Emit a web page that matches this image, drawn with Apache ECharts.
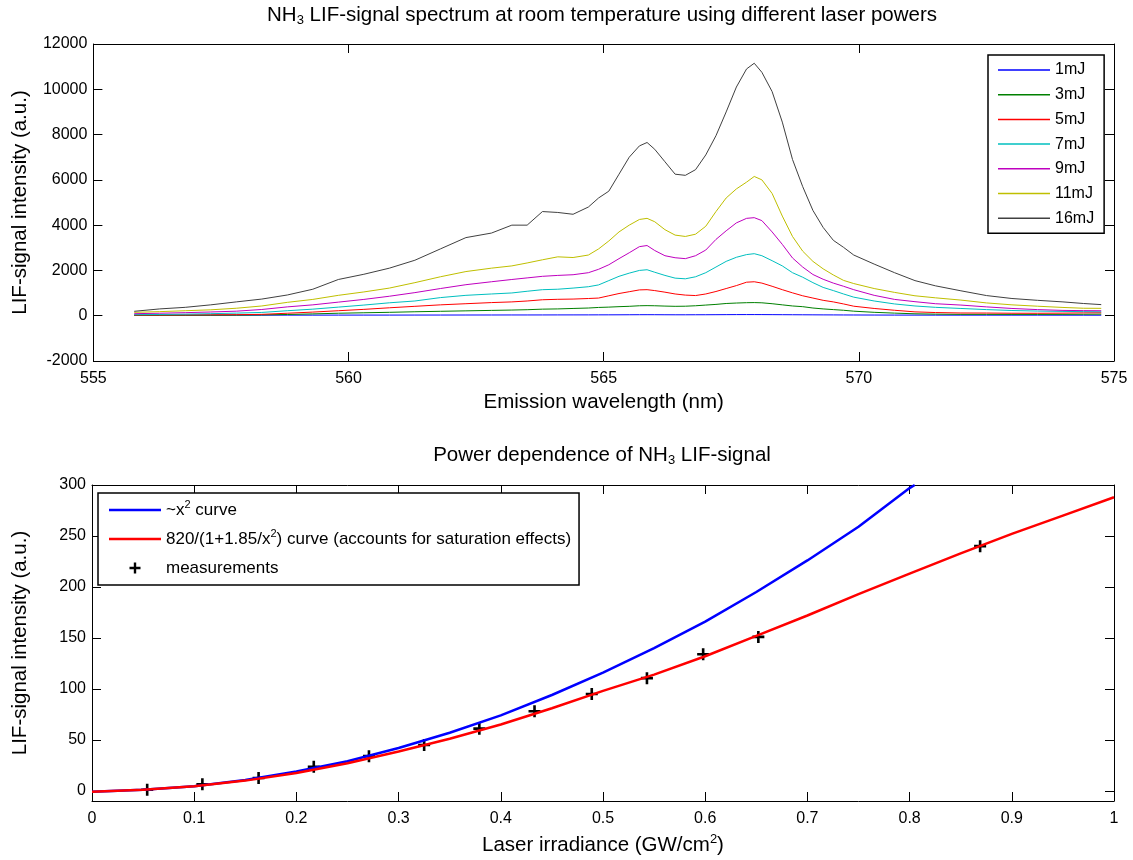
<!DOCTYPE html>
<html>
<head>
<meta charset="utf-8">
<title>NH3 LIF-signal</title>
<script src="https://cdn.jsdelivr.net/npm/echarts@6/dist/echarts.min.js"></script>
<style>
	html, body { margin: 0; padding: 0; background: #fff; }
	#main { width: 1133px; height: 860px; }
</style>
</head>
<body>
<div id="main"></div>
<script type="text/javascript">
	// top plot: emission wavelength (nm), shared by all spectra
	var wavelength = [555.8, 556.3, 556.8, 557.3, 557.8, 558.3, 558.8, 559.3, 559.8, 560.3,
		560.8, 561.3, 561.8, 562.3, 562.8, 563.2, 563.5, 563.8, 564.1, 564.4,
		564.7, 564.9, 565.1, 565.3, 565.5, 565.7, 565.85, 566.0, 566.2, 566.4,
		566.6, 566.8, 567.0, 567.2, 567.4, 567.6, 567.8, 567.95, 568.1, 568.3,
		568.5, 568.7, 568.9, 569.1, 569.3, 569.5, 569.7, 569.9, 570.3, 570.7,
		571.1, 571.5, 572.0, 572.5, 573.0, 573.5, 574.0, 574.4, 574.75];

	// LIF-signal intensity (a.u.) for each laser power
	var lif1mJ = [20, 20, 22, 22, 24, 24, 25, 26, 27, 28, 28, 29, 30, 31, 32, 33, 33, 34, 35, 36,
		37, 38, 39, 40, 42, 44, 45, 44, 42, 41, 41, 42, 43, 45, 47, 49, 50, 50, 49, 47,
		45, 43, 41, 39, 37, 35, 33, 32, 30, 28, 27, 26, 25, 25, 24, 24, 23, 23, 22];
	var lif3mJ = [15, 18, 20, 22, 25, 35, 55, 80, 110, 130, 150, 175, 195, 215, 235, 250, 265, 290, 300, 320,
		340, 365, 380, 400, 415, 440, 445, 440, 425, 415, 420, 440, 470, 500, 540, 560, 575, 580, 570, 530,
		480, 430, 400, 340, 300, 270, 240, 200, 150, 115, 85, 70, 60, 60, 58, 58, 60, 65, 70];
	var lif5mJ = [30, 32, 35, 40, 45, 60, 110, 160, 220, 280, 350, 415, 480, 530, 580, 610, 650, 705, 725, 735,
		760, 780, 880, 980, 1060, 1140, 1150, 1110, 1040, 960, 910, 890, 960, 1070, 1200, 1330, 1480, 1500, 1440, 1300,
		1150, 1010, 880, 780, 680, 610, 520, 420, 320, 240, 170, 140, 120, 118, 110, 108, 115, 125, 130];
	var lif7mJ = [45, 55, 70, 90, 115, 145, 220, 290, 380, 470, 570, 650, 800, 900, 960, 1005, 1080, 1150, 1170, 1220,
		1280, 1360, 1550, 1740, 1880, 2000, 2030, 1920, 1780, 1660, 1630, 1720, 1900, 2150, 2400, 2580, 2700, 2740, 2650, 2430,
		2200, 1900, 1700, 1460, 1250, 1110, 960, 820, 650, 520, 430, 370, 320, 270, 230, 205, 190, 180, 175];
	var lif9mJ = [90, 110, 135, 165, 200, 275, 390, 480, 600, 720, 860, 1020, 1200, 1370, 1500, 1600, 1670, 1740, 1780, 1810,
		1900, 2050, 2250, 2520, 2780, 3050, 3100, 2880, 2650, 2560, 2520, 2650, 2900, 3370, 3750, 4100, 4300, 4330, 4200, 3700,
		3150, 2550, 2150, 1820, 1610, 1440, 1300, 1150, 900, 720, 620, 530, 470, 390, 320, 270, 235, 225, 220];
	var lif11mJ = [150, 180, 220, 260, 330, 430, 590, 720, 900, 1050, 1220, 1460, 1720, 1950, 2100, 2200, 2330, 2470, 2600, 2570,
		2680, 2950, 3300, 3700, 4000, 4250, 4300, 4150, 3800, 3560, 3500, 3600, 3950, 4600, 5200, 5600, 5900, 6150, 6000, 5400,
		4400, 3500, 2850, 2400, 2070, 1800, 1560, 1420, 1200, 1030, 880, 790, 690, 565, 480, 420, 365, 330, 325];
	var lif16mJ = [195, 300, 370, 480, 610, 735, 915, 1170, 1600, 1830, 2100, 2450, 2950, 3450, 3650, 4000, 4000, 4600, 4560, 4480,
		4800, 5200, 5500, 6250, 7000, 7500, 7650, 7350, 6800, 6250, 6200, 6450, 7100, 7950, 9000, 10100, 10900, 11150, 10750, 9900,
		8550, 6900, 5700, 4650, 3900, 3330, 3020, 2680, 2280, 1900, 1550, 1320, 1100, 890, 760, 680, 610, 540, 490];

	var powerNames = ['1mJ', '3mJ', '5mJ', '7mJ', '9mJ', '11mJ', '16mJ'];
	var powerColors = ['#0000ff', '#008000', '#ff0000', '#00bfbf', '#bf00bf', '#bfbf00', '#404040'];
	var spectra = [lif1mJ, lif3mJ, lif5mJ, lif7mJ, lif9mJ, lif11mJ, lif16mJ];

	// bottom plot: laser irradiance (GW/cm2) vs LIF-signal
	var quadX = [0, 0.05, 0.1, 0.15, 0.2, 0.25, 0.3, 0.35, 0.4, 0.45, 0.5, 0.55, 0.6, 0.65, 0.7, 0.75, 0.8, 0.805];
	var quadY = [-1, 1, 4.5, 10.5, 19, 29, 42, 57, 74, 94, 116, 140, 166, 195, 226, 259, 297, 300];
	var satX = [0, 0.05, 0.1, 0.15, 0.2, 0.25, 0.3, 0.35, 0.4, 0.45, 0.5, 0.55, 0.6, 0.65, 0.7, 0.75, 0.8, 0.85, 0.9, 0.95, 1];
	var satY = [-1, 1, 4.4, 10, 17.5, 27, 38.5, 51, 65, 81, 98, 114, 132, 152, 172, 193, 213, 233, 252, 270, 288];
	var measX = [0.054, 0.108, 0.163, 0.217, 0.271, 0.325, 0.379, 0.433, 0.489, 0.543, 0.598, 0.652, 0.869];
	var measY = [1, 6.5, 12.5, 23.5, 34, 45, 61, 78, 95, 110.5, 134, 151, 240];

	var FONT = '"Liberation Sans", Arial, Helvetica, sans-serif';
	var PLUS = 'path://M-1.3,-6H1.3V-1.3H6V1.3H1.3V6H-1.3V1.3H-6V-1.3H-1.3Z';
	var THIN_LINE = 'path://M0,0H52V1.5H0Z';
	var THICK_LINE = 'path://M0,0H52V2.5H0Z';

	function zip(xs, ys) {
		return xs.map(function (x, i) { return [x, ys[i]]; });
	}

	// matlab-like boxed axis: ticks inside, no grid lines
	function axis(gridIndex, position, min, max, extra) {
		var a = {
			type: 'value',
			gridIndex: gridIndex,
			position: position,
			min: min,
			max: max,
			axisLine: { show: true, onZero: false, lineStyle: { color: '#000', width: 1 } },
			axisTick: { show: true, inside: true, length: 9, lineStyle: { color: '#000' } },
			axisLabel: { show: false },
			splitLine: { show: false }
		};
		for (var k in extra) a[k] = extra[k];
		return a;
	}

	var nameStyle = {
		fontSize: 20.5, color: '#000', fontFamily: FONT, lineHeight: 24,
		rich: { sup: { fontSize: 13, lineHeight: 13, verticalAlign: 'top' } }
	};
	var titleStyle = {
		fontSize: 20.5, fontWeight: 'normal', color: '#000', fontFamily: FONT, lineHeight: 24,
		rich: { sub: { fontSize: 13, lineHeight: 13, verticalAlign: 'bottom' } }
	};

	var series = [];
	for (var i = 0; i < spectra.length; i++) {
		series.push({
			name: powerNames[i],
			type: 'line',
			xAxisIndex: 0,
			yAxisIndex: 0,
			data: zip(wavelength, spectra[i]),
			symbol: 'none',
			lineStyle: { width: 1, color: powerColors[i] },
			itemStyle: { color: powerColors[i] }
		});
	}
	series.push({
		name: 'quad', type: 'line', xAxisIndex: 2, yAxisIndex: 2,
		data: zip(quadX, quadY), symbol: 'none',
		lineStyle: { width: 2.5, color: '#0000ff' }, itemStyle: { color: '#0000ff' }
	});
	series.push({
		name: 'sat', type: 'line', xAxisIndex: 2, yAxisIndex: 2,
		data: zip(satX, satY), symbol: 'none',
		lineStyle: { width: 2.5, color: '#ff0000' }, itemStyle: { color: '#ff0000' }
	});
	series.push({
		name: 'meas', type: 'scatter', xAxisIndex: 2, yAxisIndex: 2,
		data: zip(measX, measY), symbol: PLUS, symbolSize: 12,
		itemStyle: { color: '#000', opacity: 1 }
	});

	var bottomLegendText = {
		quad: '~x{sup|2} curve',
		sat: '820/(1+1.85/x{sup|2}) curve (accounts for saturation effects)',
		meas: 'measurements'
	};

	var myChart = echarts.init(document.getElementById('main'));
	myChart.setOption({
		animation: false,
		backgroundColor: '#fff',
		textStyle: { fontFamily: FONT },
		title: [{
			text: 'NH{sub|3} LIF-signal spectrum at room temperature using different laser powers',
			left: 602, top: 3, padding: 0, textAlign: 'center',
			textStyle: titleStyle
		}, {
			text: 'Power dependence of NH{sub|3} LIF-signal',
			left: 602, top: 443, padding: 0, textAlign: 'center',
			textStyle: titleStyle
		}],
		legend: [{
			data: powerNames,
			icon: THIN_LINE,
			orient: 'vertical',
			left: 988, top: 55,
			padding: [7, 10, 7, 10],
			itemWidth: 52, itemHeight: 14, itemGap: 8.7,
			itemStyle: { borderWidth: 0 },
			backgroundColor: '#fff',
			borderColor: '#000', borderWidth: 1.5, borderRadius: 0,
			textStyle: { fontSize: 16, lineHeight: 16, color: '#000', fontFamily: FONT }
		}, {
			data: [
				{ name: 'quad', icon: THICK_LINE },
				{ name: 'sat', icon: THICK_LINE },
				{ name: 'meas', icon: PLUS }
			],
			orient: 'vertical',
			left: 98, top: 493,
			padding: [6, 8, 6, 11],
			itemWidth: 52, itemHeight: 11, itemGap: 7,
			itemStyle: { borderWidth: 0 },
			backgroundColor: '#fff',
			borderColor: '#000', borderWidth: 1.5, borderRadius: 0,
			formatter: function (name) { return bottomLegendText[name]; },
			textStyle: {
				fontSize: 17, lineHeight: 22, color: '#000', fontFamily: FONT,
				rich: { sup: { fontSize: 11, lineHeight: 11, verticalAlign: 'top' } }
			}
		}],
		grid: [
			{ left: 89.5, right: 19, top: 44, height: 317 },
			{ left: 89.5, right: 19, top: 485, height: 316 }
		],
		xAxis: [
			axis(0, 'bottom', 555, 575, {
				interval: 5,
				axisLabel: { show: true, fontSize: 16, color: '#000', fontFamily: FONT, margin: 10 },
				name: 'Emission wavelength (nm)', nameLocation: 'middle', nameGap: 29, nameTextStyle: nameStyle
			}),
			axis(0, 'top', 555, 575, { interval: 5 }),
			axis(1, 'bottom', 0, 1, {
				interval: 0.1,
				axisLabel: { show: true, fontSize: 16, color: '#000', fontFamily: FONT, margin: 10 },
				name: 'Laser irradiance (GW/cm{sup|2})', nameLocation: 'middle', nameGap: 32, nameTextStyle: nameStyle
			}),
			axis(1, 'top', 0, 1, { interval: 0.1 })
		],
		yAxis: [
			axis(0, 'left', -2000, 12000, {
				interval: 2000,
				axisLabel: { show: true, fontSize: 16, color: '#000', fontFamily: FONT, margin: 6,
					formatter: function (v) { return String(v); } },
				name: 'LIF-signal intensity (a.u.)', nameLocation: 'middle', nameGap: 60, nameTextStyle: nameStyle
			}),
			axis(0, 'right', -2000, 12000, { interval: 2000 }),
			axis(1, 'left', -10, 300, {
				splitNumber: 6, minInterval: 50, maxInterval: 50,
				axisLabel: { show: true, fontSize: 16, color: '#000', fontFamily: FONT, margin: 6,
					formatter: function (v) { return v < 0 ? '' : String(v); } },
				name: 'LIF-signal intensity (a.u.)', nameLocation: 'middle', nameGap: 60, nameTextStyle: nameStyle
			}),
			axis(1, 'right', -10, 300, { splitNumber: 6, minInterval: 50, maxInterval: 50 })
		],
		series: series
	});
</script>
</body>
</html>
